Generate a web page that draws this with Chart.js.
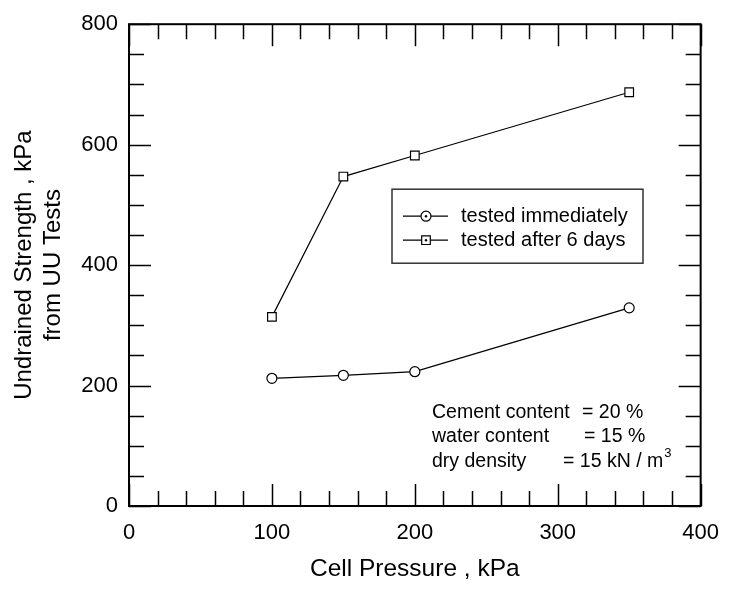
<!DOCTYPE html>
<html>
<head>
<meta charset="utf-8">
<script src="https://cdn.jsdelivr.net/npm/chart.js@4/dist/chart.umd.min.js"></script>
<style>
  html, body { margin: 0; padding: 0; background: #fff; }
  #wrap { width: 733px; height: 590px; }
</style>
</head>
<body>
<div id="wrap"><canvas id="uuChart" width="733" height="590"></canvas></div>
<script>
// values
const cellPressure = [100, 150, 200, 350];
const strengthImmediate = [212, 217, 223, 329];
const strengthAfter6Days = [314, 547, 582, 687];
const legendLabels = ['tested immediately', 'tested after 6 days'];
const noteLines = [
  ['Cement content', '= 20 %'],
  ['water content', '= 15 %'],
  ['dry density', '= 15 kN / m']
];

const FONT = '"Liberation Sans", Arial, sans-serif';

function toPoints(ys) {
  return cellPressure.map((x, i) => ({ x: x, y: ys[i] }));
}

// frame + inward ticks on all four sides
const framePlugin = {
  id: 'frame',
  afterDraw(chart) {
    const ctx = chart.ctx;
    const a = chart.chartArea;
    const xs = chart.scales.x, ys = chart.scales.y;
    ctx.save();
    ctx.strokeStyle = '#000';
    ctx.lineWidth = 1.5;
    for (let v = 0; v <= 400; v += 20) {
      const px = Math.round(xs.getPixelForValue(v)) + 0.5;
      const len = v % 100 === 0 ? 22 : 15;
      ctx.beginPath();
      ctx.moveTo(px, a.bottom); ctx.lineTo(px, a.bottom - len);
      ctx.moveTo(px, a.top); ctx.lineTo(px, a.top + len);
      ctx.stroke();
    }
    for (let v = 0; v <= 800; v += 50) {
      const py = Math.round(ys.getPixelForValue(v)) + 0.5;
      const len = v % 200 === 0 ? 22 : 15;
      ctx.beginPath();
      ctx.moveTo(a.left, py); ctx.lineTo(a.left + len, py);
      ctx.moveTo(a.right, py); ctx.lineTo(a.right - len, py);
      ctx.stroke();
    }
    ctx.lineWidth = 2;
    ctx.strokeRect(a.left, a.top, a.right - a.left, a.bottom - a.top);
    ctx.restore();
  }
};

function drawMarker(ctx, style, x, y) {
  ctx.beginPath();
  if (style === 'circle') {
    ctx.arc(x, y, 5, 0, Math.PI * 2);
  } else {
    ctx.rect(x - 4.3, y - 4.3, 8.6, 8.6);
  }
  ctx.fillStyle = '#fff';
  ctx.fill();
  ctx.stroke();
  ctx.beginPath();
  ctx.arc(x, y, 1.2, 0, Math.PI * 2);
  ctx.fillStyle = '#000';
  ctx.fill();
}

// legend box and the note inside the plot
const notesPlugin = {
  id: 'notes',
  afterDraw(chart) {
    const ctx = chart.ctx;
    const a = chart.chartArea;
    const ox = a.left, oy = a.top;
    ctx.save();
    // legend
    ctx.strokeStyle = '#333';
    ctx.lineWidth = 1.5;
    ctx.strokeRect(ox + 263, oy + 165, 251, 74);
    const styles = ['circle', 'rect'];
    ctx.font = '20px ' + FONT;
    ctx.textBaseline = 'middle';
    legendLabels.forEach((lab, i) => {
      const y = oy + 192 + i * 24;
      ctx.strokeStyle = '#000';
      ctx.lineWidth = 1.2;
      ctx.beginPath();
      ctx.moveTo(ox + 274, y); ctx.lineTo(ox + 319, y);
      ctx.stroke();
      drawMarker(ctx, styles[i], ox + 297, y);
      ctx.fillStyle = '#000';
      ctx.fillText(lab, ox + 332, y);
    });
    // note
    ctx.font = '19.5px ' + FONT;
    ctx.fillStyle = '#000';
    const eqX = [453, 455, 434];
    noteLines.forEach((ln, i) => {
      const y = oy + 388 + i * 24.5;
      ctx.fillText(ln[0], ox + 303, y);
      ctx.fillText(ln[1], ox + eqX[i], y);
      if (i === 2) {
        const w = ctx.measureText(ln[1]).width;
        ctx.font = '13px ' + FONT;
        ctx.fillText('3', ox + eqX[i] + w + 1, y - 8);
        ctx.font = '19.5px ' + FONT;
      }
    });
    ctx.restore();
  }
};

const ctx = document.getElementById('uuChart').getContext('2d');
new Chart(ctx, {
  type: 'scatter',
  data: {
    datasets: [
      {
        label: legendLabels[0],
        data: toPoints(strengthImmediate),
        showLine: true,
        borderColor: '#000',
        borderWidth: 1.2,
        pointStyle: 'circle',
        pointRadius: 5,
        pointBackgroundColor: '#fff',
        pointBorderColor: '#000',
        pointBorderWidth: 1.2
      },
      {
        label: legendLabels[1],
        data: toPoints(strengthAfter6Days),
        showLine: true,
        borderColor: '#000',
        borderWidth: 1.2,
        pointStyle: 'rect',
        pointRadius: 6.1,
        pointBackgroundColor: '#fff',
        pointBorderColor: '#000',
        pointBorderWidth: 1.2
      },
      {
        label: 'dots1',
        data: toPoints(strengthImmediate),
        showLine: false,
        pointRadius: 1.2,
        pointBackgroundColor: '#000',
        pointBorderWidth: 0
      },
      {
        label: 'dots2',
        data: toPoints(strengthAfter6Days),
        showLine: false,
        pointRadius: 1.2,
        pointBackgroundColor: '#000',
        pointBorderWidth: 0
      }
    ]
  },
  options: {
    responsive: false,
    animation: false,
    layout: { padding: { top: 20, right: 23, left: 0, bottom: 0 } },
    plugins: {
      legend: { display: false },
      tooltip: { enabled: false }
    },
    scales: {
      x: {
        type: 'linear',
        min: 0,
        max: 400,
        grid: { display: false, drawTicks: false },
        border: { display: false },
        ticks: { stepSize: 100, color: '#000', padding: 14, font: { family: FONT, size: 22 } },
        title: {
          display: true,
          text: 'Cell Pressure , kPa',
          color: '#000',
          font: { family: FONT, size: 24.5 },
          padding: { top: 0, bottom: 6 }
        },
        afterFit(scale) { scale.height = 84; }
      },
      y: {
        type: 'linear',
        min: 0,
        max: 800,
        grid: { display: false, drawTicks: false },
        border: { display: false },
        ticks: { stepSize: 200, color: '#000', padding: 11, font: { family: FONT, size: 22 } },
        title: {
          display: true,
          text: ['Undrained Strength , kPa', 'from UU Tests'],
          color: '#000',
          font: { family: FONT, size: 24, lineHeight: 1.2 },
          padding: { top: 10, bottom: 0 }
        },
        afterFit(scale) { scale.width = 129; }
      }
    }
  },
  plugins: [framePlugin, notesPlugin]
});
</script>
</body>
</html>
